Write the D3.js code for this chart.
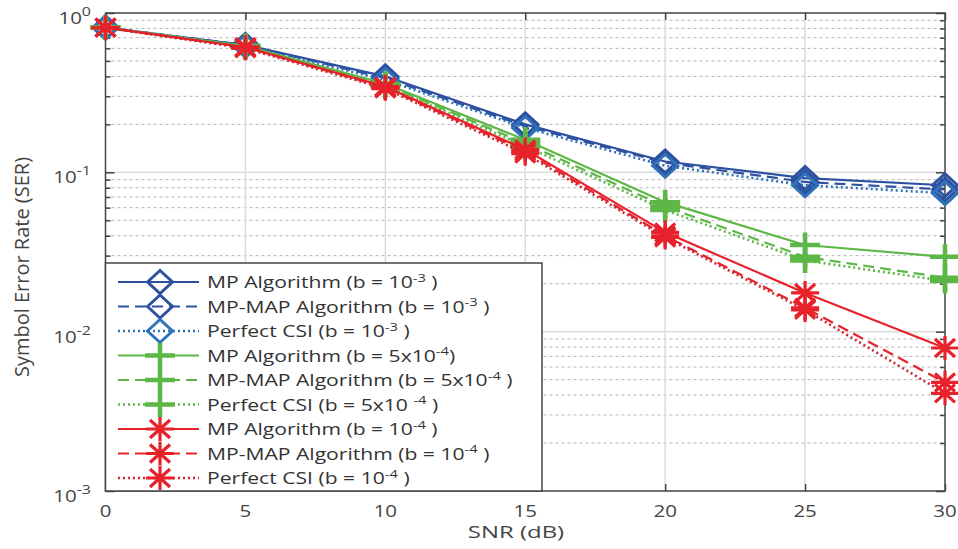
<!DOCTYPE html>
<html>
<head>
<meta charset="utf-8">
<script src="https://cdn.jsdelivr.net/npm/d3@7"></script>
<style>
  html, body { margin: 0; padding: 0; background: #fff; }
  svg { display: block; font-family: "Open Sans", "Noto Sans", sans-serif; }
</style>
</head>
<body>
<svg id="chart" width="958" height="549"></svg>
<script>
// ---- data -------------------------------------------------------------
const snr = [0, 5, 10, 15, 20, 25, 30];

const mpB3      = [0.81, 0.63, 0.40, 0.200, 0.117, 0.092, 0.083];
const mapB3     = [0.81, 0.63, 0.39, 0.195, 0.115, 0.087, 0.078];
const csiB3     = [0.81, 0.62, 0.38, 0.190, 0.110, 0.083, 0.074];
const mpB5e4    = [0.81, 0.62, 0.36, 0.160, 0.065, 0.035, 0.0295];
const mapB5e4   = [0.81, 0.62, 0.355, 0.152, 0.061, 0.0295, 0.0218];
const csiB5e4   = [0.81, 0.61, 0.35, 0.146, 0.058, 0.028, 0.0208];
const mpB4      = [0.81, 0.61, 0.345, 0.139, 0.042, 0.0175, 0.0079];
const mapB4     = [0.81, 0.61, 0.34, 0.135, 0.040, 0.0141, 0.0048];
const csiB4     = [0.81, 0.60, 0.335, 0.131, 0.039, 0.0137, 0.0041];

const xTicks = [0, 5, 10, 15, 20, 25, 30];
const yTicks = [1e-3, 1e-2, 1e-1, 1];
const yTickExp = ["-3", "-2", "-1", "0"];

const legendLabels = [
  ["MP Algorithm (b = 10", "-3", " )"],
  ["MP-MAP Algorithm (b = 10", "-3", " )"],
  ["Perfect CSI (b = 10", "-3", " )"],
  ["MP Algorithm (b = 5x10", "-4", ")"],
  ["MP-MAP Algorithm (b = 5x10", "-4", " )"],
  ["Perfect CSI (b = 5x10 ", "-4", " )"],
  ["MP Algorithm (b = 10", "-4", " )"],
  ["MP-MAP Algorithm (b = 10", "-4", " )"],
  ["Perfect CSI (b = 10", "-4", " )"]
];

// ---- series styling -----------------------------------------------------
const BLUE = "#2d50a0", BLUE_L = "#2f72b8", GREEN = "#5cb746", RED = "#e8222b", RED_D = "#cf2733";
const series = [
  { v: mpB3,    color: BLUE,   dash: null,    marker: "diamond", mcolor: BLUE },
  { v: mapB3,   color: BLUE,   dash: "11,6",  marker: "diamond", mcolor: BLUE },
  { v: csiB3,   color: BLUE_L, dash: "2,3",   marker: "diamond", mcolor: BLUE_L },
  { v: mpB5e4,  color: GREEN,  dash: null,    marker: "plus",    mcolor: GREEN },
  { v: mapB5e4, color: GREEN,  dash: "11,6",  marker: "plus",    mcolor: GREEN },
  { v: csiB5e4, color: GREEN,  dash: "2,3",   marker: "plus",    mcolor: GREEN },
  { v: mpB4,    color: RED,    dash: null,    marker: "star",    mcolor: RED },
  { v: mapB4,   color: RED,    dash: "11,6",  marker: "star",    mcolor: RED },
  { v: csiB4,   color: RED_D,  dash: "2,3",   marker: "star",    mcolor: RED }
];

// ---- layout -----------------------------------------------------------
const L = 105.5, R = 945, T = 13, B = 491;
const AX = "#444";
const svg = d3.select("#chart");
const x = d3.scaleLinear().domain([0, 30]).range([L, R]);
const y = d3.scaleLog().domain([1e-3, 1]).range([B, T]);

// minor decade values
const minors = [];
for (let e = -3; e < 0; e++) for (let m = 2; m <= 9; m++) minors.push(m * Math.pow(10, e));

// ---- grid -------------------------------------------------------------
const grid = svg.append("g");
grid.selectAll(".mg").data(minors).join("line")
  .attr("x1", L).attr("x2", R)
  .attr("y1", d => y(d)).attr("y2", d => y(d))
  .attr("stroke", "#b4b4b4").attr("stroke-width", 1).attr("stroke-dasharray", "3,3");
grid.selectAll(".hg").data([1e-2, 1e-1]).join("line")
  .attr("x1", L).attr("x2", R)
  .attr("y1", d => y(d)).attr("y2", d => y(d))
  .attr("stroke", "#dcdcdc").attr("stroke-width", 1.5);
grid.selectAll(".vg").data(xTicks.slice(1, -1)).join("line")
  .attr("x1", d => x(d)).attr("x2", d => x(d))
  .attr("y1", T).attr("y2", B)
  .attr("stroke", "#dcdcdc").attr("stroke-width", 1.5);

// ---- axes (ticks inside the box) --------------------------------------
function styleAxis(g) {
  g.select(".domain").remove();
  g.selectAll(".tick line").attr("stroke", AX).attr("stroke-width", 1.5);
  g.selectAll(".tick text").remove();
}
svg.append("g").attr("transform", `translate(0,${B})`)
  .call(d3.axisBottom(x).tickValues(xTicks).tickSize(-7).tickFormat("")).call(styleAxis);
svg.append("g").attr("transform", `translate(0,${T})`)
  .call(d3.axisTop(x).tickValues(xTicks).tickSize(-7).tickFormat("")).call(styleAxis);
svg.append("g").attr("transform", `translate(${L},0)`)
  .call(d3.axisLeft(y).tickValues(yTicks).tickSize(-9).tickFormat("")).call(styleAxis);
svg.append("g").attr("transform", `translate(${L},0)`)
  .call(d3.axisLeft(y).tickValues(minors).tickSize(-5).tickFormat("")).call(styleAxis);
svg.append("g").attr("transform", `translate(${R},0)`)
  .call(d3.axisRight(y).tickValues(yTicks).tickSize(-9).tickFormat("")).call(styleAxis);
svg.append("g").attr("transform", `translate(${R},0)`)
  .call(d3.axisRight(y).tickValues(minors).tickSize(-5).tickFormat("")).call(styleAxis);

// box
svg.append("rect").attr("x", L).attr("y", T).attr("width", R - L).attr("height", B - T)
  .attr("fill", "none").attr("stroke", AX).attr("stroke-width", 1.5);

// ---- tick labels ------------------------------------------------------
const SX = 1.28;
xTicks.forEach(t => {
  svg.append("text")
    .attr("transform", `translate(${x(t)},517) scale(${SX},1)`)
    .attr("text-anchor", "middle").attr("font-size", 16).attr("fill", AX)
    .text(t);
});
yTicks.forEach((t, i) => {
  const tx = svg.append("text")
    .attr("transform", `translate(91,${y(t) + 11}) scale(${SX},1)`)
    .attr("text-anchor", "end").attr("font-size", 16).attr("fill", AX);
  tx.append("tspan").text("10");
  tx.append("tspan").attr("dy", -8).attr("font-size", 12.5).text(yTickExp[i]);
});

// axis titles
svg.append("text")
  .attr("transform", `translate(516,538) scale(1.45,1)`)
  .attr("text-anchor", "middle").attr("font-size", 16.5).attr("fill", AX)
  .text("SNR (dB)");
svg.append("text")
  .attr("transform", `translate(29,267) rotate(-90)`)
  .attr("text-anchor", "middle").attr("font-size", 20).attr("fill", AX)
  .text("Symbol Error Rate (SER)");

// ---- markers ----------------------------------------------------------
function drawMarker(g, kind, cx, cy, color) {
  if (kind === "diamond") {
    const w = 12.5, h = 11.5;
    g.append("path")
      .attr("d", `M${cx - w},${cy} L${cx},${cy - h} L${cx + w},${cy} L${cx},${cy + h} Z`)
      .attr("fill", "none").attr("stroke", color).attr("stroke-width", 3);
  } else if (kind === "plus") {
    const w = 15, h = 12.5;
    g.append("path")
      .attr("d", `M${cx - w},${cy} H${cx + w} M${cx},${cy - h} V${cy + h}`)
      .attr("fill", "none").attr("stroke", color).attr("stroke-width", 4.5);
  } else {
    const w = 14, h = 12, dw = 10, dh = 9;
    g.append("path")
      .attr("d", `M${cx - w},${cy} H${cx + w} M${cx},${cy - h} V${cy + h} ` +
                 `M${cx - dw},${cy - dh} L${cx + dw},${cy + dh} M${cx - dw},${cy + dh} L${cx + dw},${cy - dh}`)
      .attr("fill", "none").attr("stroke", color).attr("stroke-width", 3.2);
  }
}

// ---- series -----------------------------------------------------------
const line = d3.line().x((d, i) => x(snr[i])).y(d => y(d));
const plot = svg.append("g");
series.forEach(s => {
  const g = plot.append("g");
  g.append("path").attr("d", line(s.v))
    .attr("fill", "none").attr("stroke", s.color)
    .attr("stroke-width", s.dash === "2,3" ? 2.6 : 2.2)
    .attr("stroke-dasharray", s.dash);
  s.v.forEach((v, i) => drawMarker(g, s.marker, x(snr[i]), y(v), s.mcolor));
});

// ---- legend -----------------------------------------------------------
const lg = svg.append("g");
lg.append("rect").attr("x", L).attr("y", 263).attr("width", 542 - L).attr("height", B - 263)
  .attr("fill", "#fff").attr("stroke", AX).attr("stroke-width", 1.5);
series.forEach((s, i) => {
  const cy = 282 + i * 24.5;
  lg.append("line").attr("x1", 118).attr("x2", 199).attr("y1", cy).attr("y2", cy)
    .attr("stroke", s.color).attr("stroke-width", s.dash === "2,3" ? 2.6 : 2.2)
    .attr("stroke-dasharray", s.dash);
});
series.forEach((s, i) => {
  const cy = 282 + i * 24.5;
  drawMarker(lg, s.marker, 160, cy, s.mcolor);
  const lab = legendLabels[i];
  const t = lg.append("text")
    .attr("transform", `translate(207,${cy + 6}) scale(${SX},1)`)
    .attr("font-size", 16.5).attr("fill", "#333");
  t.append("tspan").text(lab[0]);
  t.append("tspan").attr("dy", -6.5).attr("font-size", 11.5).text(lab[1]);
  t.append("tspan").attr("dy", 6.5).text(lab[2]);
});
</script>
</body>
</html>
